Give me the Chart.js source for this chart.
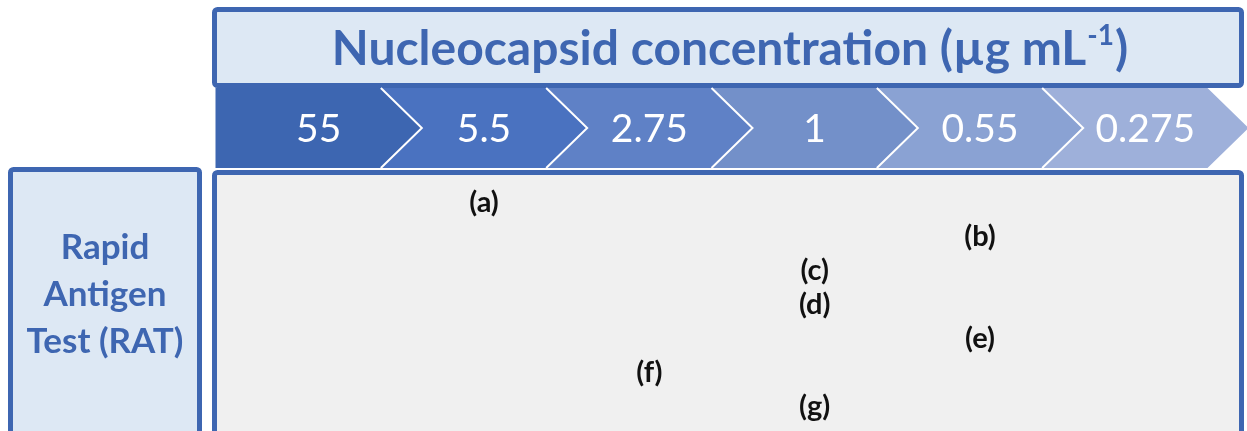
<!DOCTYPE html>
<html>
<head>
<meta charset="utf-8">
<script src="https://cdn.jsdelivr.net/npm/chart.js@4.4.1/dist/chart.umd.min.js"></script>
<style>
  html, body { margin: 0; padding: 0; background: #ffffff; }
  #wrap { width: 1247px; height: 431px; }
</style>
</head>
<body>
<div id="wrap"><canvas id="ratChart" width="1247" height="431"></canvas></div>
<script>
// concentration steps shown in the arrow header (µg/mL)
const concentrations = ['55', '5.5', '2.75', '1', '0.55', '0.275'];
// rapid antigen tests
const tests = ['(a)', '(b)', '(c)', '(d)', '(e)', '(f)', '(g)'];
// lowest concentration each test still detects
const detectionLimit = ['5.5', '0.55', '1', '1', '0.55', '2.75', '1'];

const chevronColors = ['#3d66b1', '#4a72c0', '#5f81c6', '#7390c9', '#8aa2d3', '#9eb0da'];
const BLUE = '#3e66b1';
const PALE = '#dde8f4';
const FONT = 'Lato, "Open Sans", sans-serif';

function boxPath(ctx, x, y, w, h, r) {
  ctx.beginPath();
  ctx.roundRect(x, y, w, h, r);
}

const diagramPlugin = {
  id: 'diagram',
  beforeDraw(chart) {
    const ctx = chart.ctx;
    const xs = chart.scales.x;
    ctx.save();
    ctx.fillStyle = '#ffffff';
    ctx.fillRect(0, 0, chart.width, chart.height);

    // title box
    boxPath(ctx, 214.5, 9.5, 1027, 76, 3);
    ctx.fillStyle = PALE;
    ctx.fill();
    ctx.lineWidth = 5;
    ctx.strokeStyle = BLUE;
    ctx.stroke();

    const part1 = 'Nucleocapsid concentration (µg mL';
    const sup = '-1';
    const part3 = ')';
    const big = 'bold 48px ' + FONT;
    const small = 'bold 28px ' + FONT;
    ctx.font = big;
    const w1 = ctx.measureText(part1).width;
    const w3 = ctx.measureText(part3).width;
    ctx.font = small;
    const w2 = ctx.measureText(sup).width;
    let tx = 729 - (w1 + w2 + w3) / 2;
    ctx.fillStyle = BLUE;
    ctx.textBaseline = 'alphabetic';
    ctx.textAlign = 'left';
    ctx.font = big;
    ctx.fillText(part1, tx, 65);
    ctx.font = small;
    ctx.fillText(sup, tx + w1 + 1, 45);
    ctx.font = big;
    ctx.fillText(part3, tx + w1 + w2 + 2, 65);

    // chevron header, one per concentration, aligned to the x scale
    const step = (xs.right - xs.left) / concentrations.length;
    const depth = 41;
    const top = 88, bottom = 168, mid = (top + bottom) / 2;
    concentrations.forEach((c, k) => {
      const xl = xs.left - depth / 2 + k * step;
      const xr = xl + step;
      ctx.beginPath();
      ctx.moveTo(xl, top);
      ctx.lineTo(xr, top);
      ctx.lineTo(xr + depth, mid);
      ctx.lineTo(xr, bottom);
      ctx.lineTo(xl, bottom);
      if (k > 0) ctx.lineTo(xl + depth, mid);
      ctx.closePath();
      ctx.fillStyle = chevronColors[k];
      ctx.fill();
      if (k > 0) {
        ctx.beginPath();
        ctx.moveTo(xl, top);
        ctx.lineTo(xl + depth, mid);
        ctx.lineTo(xl, bottom);
        ctx.lineWidth = 2;
        ctx.strokeStyle = '#ffffff';
        ctx.stroke();
      }
    });
    ctx.fillStyle = '#ffffff';
    ctx.font = '39px ' + FONT;
    ctx.textAlign = 'center';
    ctx.textBaseline = 'middle';
    concentrations.forEach(c => {
      ctx.fillText(c, xs.getPixelForValue(c), mid + 1);
    });

    // results panel
    boxPath(ctx, 214.5, 172.5, 1027, 270, 3);
    ctx.fillStyle = '#f0f0f0';
    ctx.fill();
    ctx.lineWidth = 5;
    ctx.strokeStyle = BLUE;
    ctx.stroke();

    // side label box
    boxPath(ctx, 10.5, 169.5, 189, 270, 3);
    ctx.fillStyle = PALE;
    ctx.fill();
    ctx.stroke();
    ctx.fillStyle = BLUE;
    ctx.font = 'bold 35px ' + FONT;
    ctx.textBaseline = 'alphabetic';
    ['Rapid', 'Antigen', 'Test (RAT)'].forEach((line, i) => {
      ctx.fillText(line, 105, 259 + i * 47);
    });
    ctx.restore();
  },
  afterDatasetsDraw(chart) {
    const ctx = chart.ctx;
    const meta = chart.getDatasetMeta(0);
    ctx.save();
    ctx.fillStyle = '#111111';
    ctx.font = 'bold 29px ' + FONT;
    ctx.textAlign = 'center';
    ctx.textBaseline = 'middle';
    meta.data.forEach((pt, i) => {
      ctx.fillText(tests[i], pt.x, pt.y);
    });
    ctx.restore();
  }
};

new Chart(document.getElementById('ratChart'), {
  type: 'scatter',
  data: {
    datasets: [{
      label: 'Limit of detection',
      data: tests.map((t, i) => ({ x: detectionLimit[i], y: t })),
      pointRadius: 0,
      pointHoverRadius: 0
    }]
  },
  options: {
    responsive: false,
    animation: false,
    layout: { padding: { left: 236, right: 19, top: 186, bottom: 7 } },
    scales: {
      x: { type: 'category', labels: concentrations, offset: true, display: false },
      y: { type: 'category', labels: tests, offset: true, display: false }
    },
    plugins: {
      legend: { display: false },
      tooltip: { enabled: false }
    }
  },
  plugins: [diagramPlugin]
});
</script>
</body>
</html>
